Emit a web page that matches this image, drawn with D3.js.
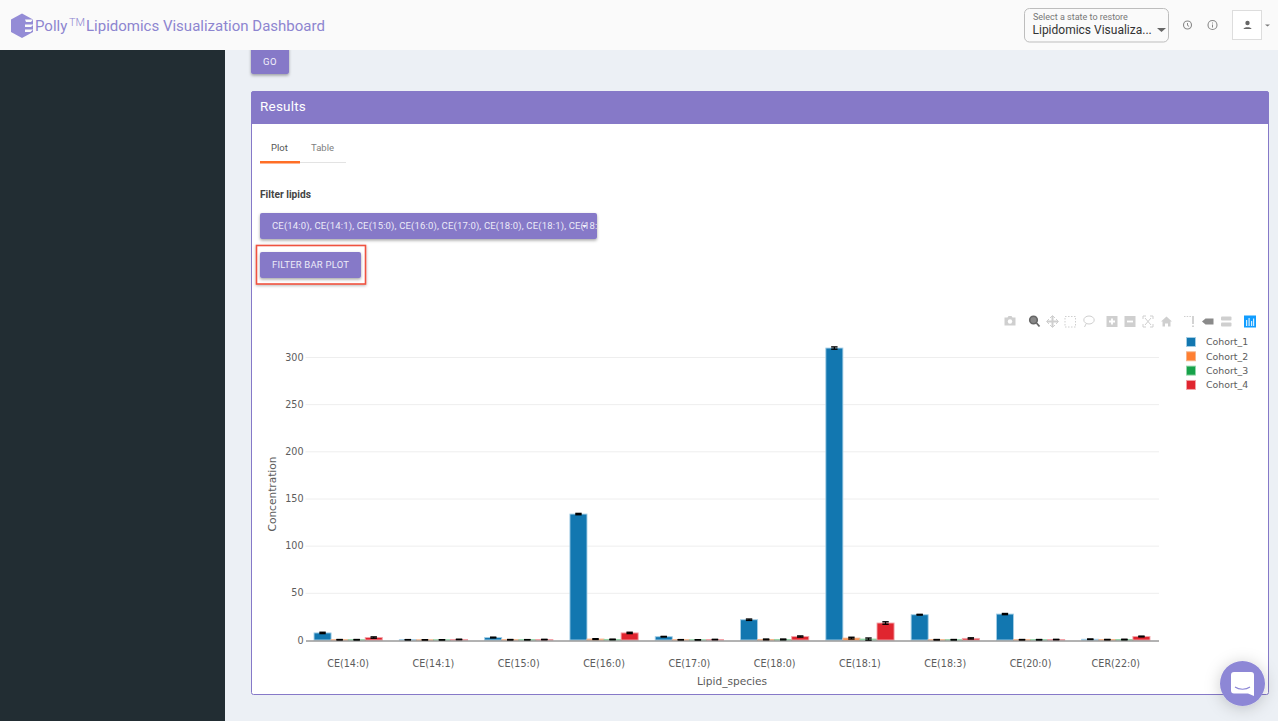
<!DOCTYPE html>
<html><head><meta charset="utf-8">
<script src="https://cdnjs.cloudflare.com/ajax/libs/d3/7.8.5/d3.min.js"></script>
<style>html,body{margin:0;padding:0;background:#ecf0f5;overflow:hidden}svg{display:block}
.ui{font-family:Roboto,sans-serif}.plot text{font-family:"DejaVu Sans",sans-serif;fill:#5c5c5c}</style>
</head><body><svg id="c" width="1278" height="721"></svg>
<script>
const categories=["CE(14:0)","CE(14:1)","CE(15:0)","CE(16:0)","CE(17:0)","CE(18:0)","CE(18:1)","CE(18:3)","CE(20:0)","CER(22:0)"];
const seriesNames=["Cohort_1","Cohort_2","Cohort_3","Cohort_4"];
const colors=["#1277b0","#ff7f32","#17a24a","#e0252f"];
const strokes=["#a6cfe6","#f3b48c","#96d6aa","#f2a3a8"];
const cohort1=[7.5,0.3,2.6,133.5,3.5,21.5,309.5,26.8,27.5,0.8];
const cohort2=[0.3,0.2,0.3,1,0.3,0.6,2,0.3,0.3,0.4];
const cohort3=[0.3,0.2,0.3,0.6,0.2,0.6,1,0.3,0.3,0.5];
const cohort4=[2.6,0.6,0.5,7.5,0.5,3.7,18,1.7,0.5,3.7];
const err1=[0.7,0.1,0.4,0.7,0.3,0.7,1.2,0.4,0.6,0.2];
const err2=[0.2,0.1,0.2,0.4,0.1,0.4,0.9,0.2,0.2,0.2];
const err3=[0.2,0.1,0.1,0.3,0.1,0.4,1.1,0.2,0.2,0.3];
const err4=[0.7,0.2,0.2,0.7,0.2,0.6,1.3,0.6,0.2,0.4];
const yTicks=[0,50,100,150,200,250,300];
const values=[cohort1,cohort2,cohort3,cohort4],errors=[err1,err2,err3,err4];

const svg=d3.select("#c");
const R=(x,y,w,h,f,o={})=>{const r=svg.append("rect").attr("x",x).attr("y",y).attr("width",w).attr("height",h).attr("fill",f);
  Object.entries(o).forEach(([k,v])=>r.attr(k,v));return r;};
const T=(x,y,s,size,f,o={})=>{const t=svg.append("text").attr("class","ui").attr("x",x).attr("y",y).attr("font-size",size).attr("fill",f).text(s);
  Object.entries(o).forEach(([k,v])=>t.attr(k,v));return t;};
const P=(d,f,o={})=>{const p=svg.append("path").attr("d",d).attr("fill",f);Object.entries(o).forEach(([k,v])=>p.attr(k,v));return p;};

const defs=svg.append("defs");
const sh=defs.append("filter").attr("id","sh").attr("x","-20%").attr("y","-30%").attr("width","140%").attr("height","170%");
sh.append("feDropShadow").attr("dx",0).attr("dy",1.5).attr("stdDeviation",1.5).attr("flood-color","#000").attr("flood-opacity",.35);
const sh2=defs.append("filter").attr("id","sh2").attr("x","-40%").attr("y","-40%").attr("width","180%").attr("height","180%");
sh2.append("feDropShadow").attr("dx",0).attr("dy",2).attr("stdDeviation",8).attr("flood-color","#000").attr("flood-opacity",.2);
const sh3=defs.append("filter").attr("id","sh3").attr("x","-15%").attr("y","-30%").attr("width","130%").attr("height","170%");
sh3.append("feDropShadow").attr("dx",0).attr("dy",1).attr("stdDeviation",1.6).attr("flood-color","#000").attr("flood-opacity",.28);
defs.append("clipPath").attr("id","fc").append("rect").attr("x",262).attr("y",213).attr("width",335).attr("height",26);

const PUR="#8679c8";
// page
R(0,0,1278,721,"#ecf0f5");
R(0,50,225,671,"#222d33");
// GO
R(251,46,38,28,PUR,{rx:2,filter:"url(#sh)"});
T(270,64.5,"GO",9.5,"#f3f1fb",{"text-anchor":"middle","letter-spacing":".4"});
// header
R(0,0,1278,50,"#fafafa");
P("M22 13.5L33 19.5V32L22 38L11 32V19.5Z","#948cd6");
P("M25 24.5h8.5l-2.5 2.5h-6zM25 29.5h8l-2.5 2.5h-5.5zM25 19.5h8l-2 2.5h-5z","#fafafa");
T(35,30.5,"Polly",15,"#8d85d0");
T(69,25.5,"TM",11,"#8d85d0",{"font-weight":300});
T(86,30.5,"Lipidomics Visualization Dashboard",15,"#8d85d0");
R(1024.5,8.5,144,33.5,"#fafafa",{rx:5,stroke:"#bdbdbd"});
T(1033,20,"Select a state to restore",9,"#777");
T(1032.5,34,"Lipidomics Visualiza...",12,"#333");
P("M1157 28h9l-4.5 4z","#666");
svg.append("circle").attr("cx",1187.5).attr("cy",25).attr("r",4).attr("fill","none").attr("stroke","#888").attr("stroke-width",1.1);
P("M1187.5 23v2.4l1.6 1","none",{stroke:"#888","stroke-width":1});
svg.append("circle").attr("cx",1212.5).attr("cy",25).attr("r",4.5).attr("fill","none").attr("stroke","#888").attr("stroke-width",1.1);
P("M1212.5 24.5v3M1212.5 22.5v1","none",{stroke:"#888","stroke-width":1});
R(1232.5,10.5,29,29,"#fff",{stroke:"#ddd"});
svg.append("circle").attr("cx",1247.5).attr("cy",23).attr("r",2.2).attr("fill","#666");
P("M1243.5 29c0-2.4 8-2.4 8 0z","#666");
P("M1265 24.5h5l-2.5 2z","#777");

// results panel
R(251.5,91.5,1017,603,"#fff",{stroke:PUR,rx:2});
P("M251 124V94a3 3 0 0 1 3-3H1266a3 3 0 0 1 3 3V124Z",PUR);
T(260,111,"Results",13.5,"#fff",{"letter-spacing":".2"});
T(271,151,"Plot",9.5,"#555");
T(311,151,"Table",9.5,"#808080");
R(300,162,46,1,"#e3e3e3");
R(260,161,40,2.5,"#ff6f26");
T(260,198,"Filter lipids",10.2,"#444",{"font-weight":700});
R(260,213,337,26,PUR,{rx:2,filter:"url(#sh)"});
T(272,229,"CE(14:0), CE(14:1), CE(15:0), CE(16:0), CE(17:0), CE(18:0), CE(18:1), CE(18:3), CE(20:0)",9.5,"#ecebf8",{"clip-path":"url(#fc)","letter-spacing":".17"});
P("M582 225h5l-2.5 3z","#f3f1fb");
R(256.5,245.5,109,38.5,"#fff",{stroke:"#ef5240","stroke-width":1.6,filter:"url(#sh3)"});
R(260,252,101,26,PUR,{rx:2,filter:"url(#sh)"});
T(272,268,"FILTER BAR PLOT",9.5,"#ecebf8",{"letter-spacing":".2"});

// chart
const x0=d3.scaleBand().domain(categories).range([305.5,1158.5]).paddingInner(0.2).paddingOuter(0.1);
const x1=d3.scaleBand().domain(seriesNames).range([0,x0.bandwidth()]);
const y=d3.scaleLinear().domain([0,300]).range([640,357]);
const plot=svg.append("g").attr("class","plot");
plot.append("g").selectAll("line").data(yTicks.filter(d=>d>0)).join("line")
 .attr("x1",305.5).attr("x2",1159).attr("y1",d=>y(d)+.5).attr("y2",d=>y(d)+.5).attr("stroke","#eee");
const rows=seriesNames.flatMap((s,i)=>categories.map((c,j)=>({s,i,c,v:values[i][j],e:errors[i][j]})));
plot.append("g").selectAll("rect").data(rows).join("rect")
 .attr("x",d=>x0(d.c)+x1(d.s)).attr("width",x1.bandwidth())
 .attr("y",d=>y(d.v)).attr("height",d=>y(0)-y(d.v))
 .attr("fill",d=>colors[d.i]).attr("stroke",d=>strokes[d.i]).attr("stroke-width",.9);
const ax=plot.append("g").attr("transform","translate(0,640.5)").call(d3.axisBottom(x0).tickSize(0).tickPadding(20));
ax.select(".domain").attr("stroke","#666").attr("stroke-width",1);
const eb=plot.append("g").attr("stroke","#000").selectAll("g").data(rows).join("g")
 .attr("transform",d=>`translate(${x0(d.c)+x1(d.s)+x1.bandwidth()/2},0)`);
eb.append("line").attr("y1",d=>y(d.v+d.e)).attr("y2",d=>y(d.v-d.e)).attr("stroke-width",1.2);
eb.append("line").attr("x1",-3.2).attr("x2",3.2).attr("y1",d=>y(d.v+d.e)).attr("y2",d=>y(d.v+d.e)).attr("stroke-width",1.4);
eb.append("line").attr("x1",-3.2).attr("x2",3.2).attr("y1",d=>y(d.v-d.e)).attr("y2",d=>y(d.v-d.e)).attr("stroke-width",1.4);
const ay=plot.append("g").attr("transform","translate(305.5,0)").call(d3.axisLeft(y).tickValues(yTicks).tickSize(0).tickPadding(2));
ay.select(".domain").remove();
plot.selectAll(".tick text").attr("font-size",9.6);
plot.append("text").attr("x",732).attr("y",685).attr("text-anchor","middle").attr("font-size",10.6).text("Lipid_species");
plot.append("text").attr("transform","translate(276,494) rotate(-90)").attr("text-anchor","middle").attr("font-size",10.6).text("Concentration");
const leg=plot.append("g").selectAll("g").data(seriesNames).join("g").attr("transform",(d,i)=>`translate(0,${342+i*14.3})`);
leg.append("rect").attr("x",1186.5).attr("y",-4.5).attr("width",9).attr("height",9).attr("fill",(d,i)=>colors[i]).attr("stroke",(d,i)=>strokes[i]).attr("stroke-width",.9);
leg.append("text").attr("x",1206).attr("y",3.3).attr("font-size",9.4).text(d=>d);

// modebar
const G="#cfcfcf";
P("M1004.5 317.5h3l1-1.5h3l1 1.5h3v8h-11z",G);svg.append("circle").attr("cx",1010).attr("cy",321.5).attr("r",2.2).attr("fill","#fff");
svg.append("circle").attr("cx",1033.5).attr("cy",320).attr("r",3.8).attr("fill","#888").attr("stroke","#666").attr("stroke-width",1.6);
P("M1036.5 323l3 3.5","none",{stroke:"#666","stroke-width":1.8});
P("M1052.5 316v11M1047 321.5h11","none",{stroke:G,"stroke-width":2});
P("M1050 318l2.5-2.5 2.5 2.5M1050 325l2.5 2.5 2.5-2.5M1049 319l-2.5 2.5 2.5 2.5M1056 319l2.5 2.5-2.5 2.5","none",{stroke:G,"stroke-width":1});
R(1065,316.5,10.5,10.5,"none",{stroke:G,"stroke-dasharray":"1.5 1.5"});
svg.append("ellipse").attr("cx",1089).attr("cy",320).attr("rx",5.2).attr("ry",4).attr("fill","none").attr("stroke",G);
P("M1086 324l-1.5 3","none",{stroke:G});
R(1106.5,316,11,11,G);P("M1112 318.5v6M1109 321.5h6","none",{stroke:"#fff","stroke-width":1.8});
R(1124.5,316,11,11,G);P("M1127 321.5h6","none",{stroke:"#fff","stroke-width":1.8});
P("M1143 319v-3h3M1150 316h3v3M1153 324v3h-3M1146 327h-3v-3M1145 318l6 7M1151 318l-6 7","none",{stroke:G,"stroke-width":1});
P("M1161 321.5l5.5-5 5.5 5h-1.5v5h-2.5v-3h-3v3h-2.5v-5z",G);
P("M1184 316.5h7","none",{stroke:G,"stroke-dasharray":"1.5 1.2"});P("M1193 316v8M1193 325.5v1.5","none",{stroke:G,"stroke-width":1.8});
P("M1202 321.5l3.5-3h8v6h-8z","#8a8a8a");
R(1221,316.5,10.5,4,G,{rx:1});R(1221,322.5,10.5,4,G,{rx:1});
R(1244,315.5,12,12,"#119dff");
R(1246,320,1.2,6,"#d5eeff");R(1248.5,318,1.2,8,"#d5eeff");R(1251,321,1.2,5,"#d5eeff");R(1253,318.5,1.2,7.5,"#d5eeff");

// chat
svg.append("circle").attr("cx",1242.5).attr("cy",683.5).attr("r",22.5).attr("fill","#8d87d6").attr("filter","url(#sh2)");
P("M1234 672h17a3 3 0 0 1 3 3v21l-6-2.5h-14a3 3 0 0 1-3-3v-15.5a3 3 0 0 1 3-3z","#fff");
P("M1235 687c4 3 11 3 15 0","none",{stroke:"#8d87d6","stroke-width":1.1});
</script></body></html>
